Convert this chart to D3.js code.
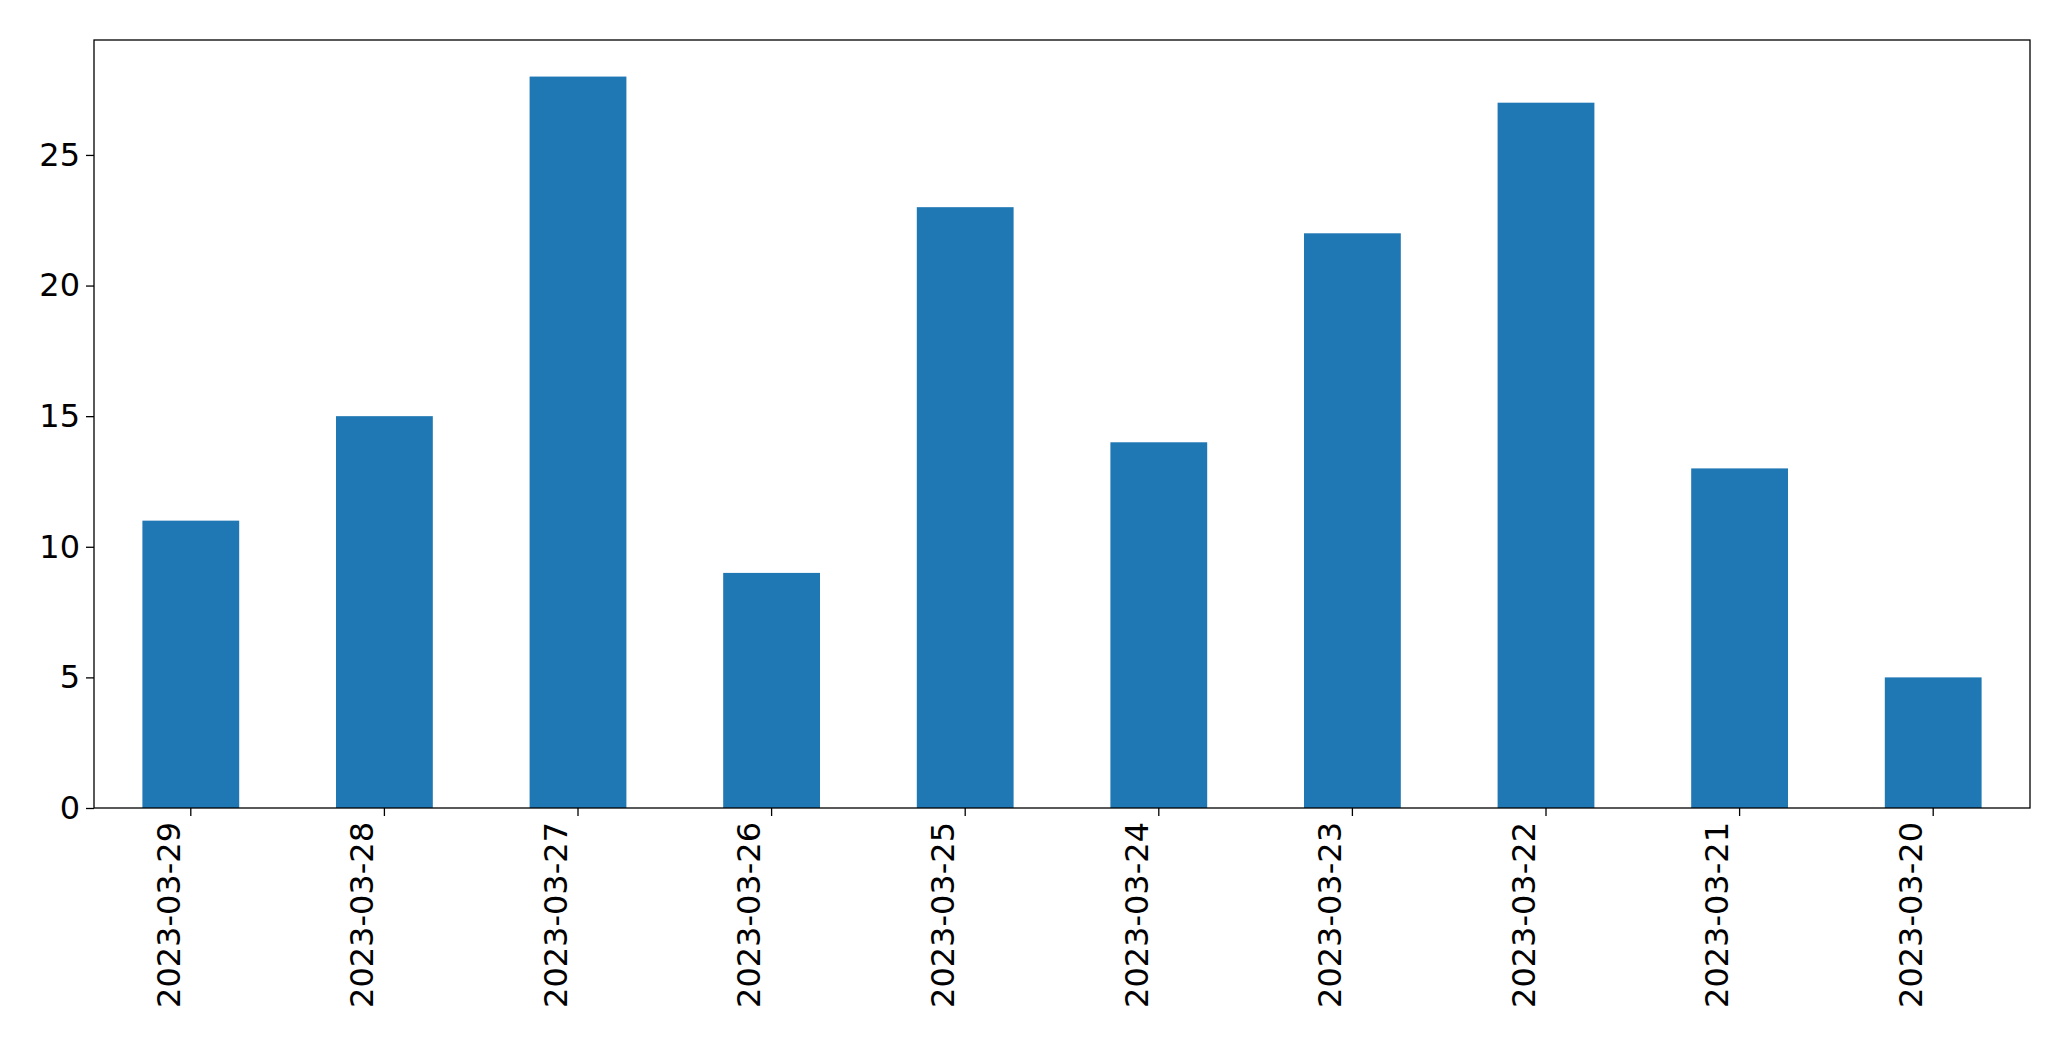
<!DOCTYPE html>
<html><head><meta charset="utf-8">
<script src="https://cdn.jsdelivr.net/npm/d3@7"></script>
<style>body{margin:0;background:#fff}svg{display:block}text{font-family:"DejaVu Sans",sans-serif}</style>
</head><body><svg id="c" width="2071" height="1061"></svg>
<script>
const categories=["2023-03-29","2023-03-28","2023-03-27","2023-03-26","2023-03-25","2023-03-24","2023-03-23","2023-03-22","2023-03-21","2023-03-20"];
const values=[11,15,28,9,23,14,22,27,13,5];
const yTicks=[0,5,10,15,20,25];
const m={l:94,r:2030,t:40,b:808};
const svg=d3.select("#c");
const x=d3.scaleBand().domain(categories).range([m.l,m.r]).padding(0);
const y=d3.scaleLinear().domain([0,d3.max(values)*1.05]).range([m.b,m.t]);
svg.selectAll("rect.bar").data(values).join("rect").attr("class","bar")
 .attr("x",(d,i)=>x(categories[i])+x.bandwidth()*0.25).attr("width",x.bandwidth()*0.5)
 .attr("y",d=>y(d)).attr("height",d=>y(0)-y(d)).attr("fill","#1f77b4");
const ya=svg.append("g").attr("transform",`translate(${m.l},0)`).call(d3.axisLeft(y).tickValues(yTicks).tickSize(8).tickPadding(6));
ya.selectAll("text").attr("font-size",32).attr("fill","#000");
const xa=svg.append("g").attr("transform",`translate(0,${m.b})`).call(d3.axisBottom(x).tickSize(8).tickPadding(6));
xa.selectAll("text").attr("font-size",32).attr("fill","#000")
 .attr("transform","rotate(-90)").attr("text-anchor","end").attr("dx","-14").attr("dy","-0.35em").attr("x",0).attr("y",0);
svg.selectAll(".domain").remove();
svg.selectAll(".tick line").attr("stroke","#000").attr("stroke-width",1.3);
svg.append("rect").attr("x",m.l).attr("y",m.t).attr("width",m.r-m.l).attr("height",m.b-m.t).attr("fill","none").attr("stroke","#000").attr("stroke-width",1.3);
</script></body></html>
